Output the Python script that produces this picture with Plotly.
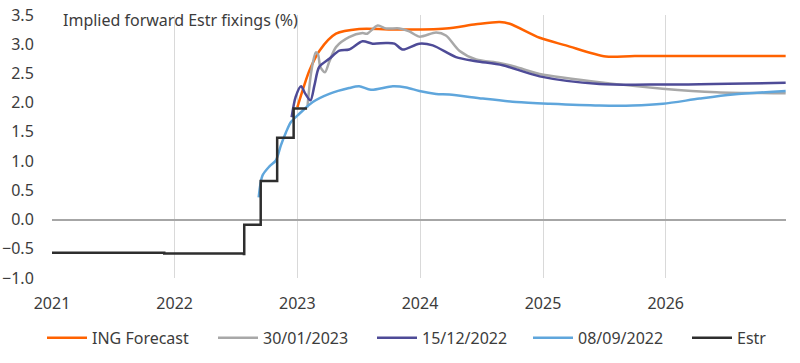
import plotly.graph_objects as go

# ---- data ----
estr_dates = ["2021-01-01", "2021-06-01", "2021-12-01", "2022-07-26", "2022-07-27", "2022-09-14",
              "2022-11-02", "2022-12-21", "2023-01-30"]
estr_vals = [-0.57, -0.57, -0.58, -0.59, -0.09, 0.66, 1.40, 1.90, 1.90]

ing_dates = ["2023-01-01", "2023-02-06", "2023-03-08", "2023-04-26", "2023-07-04", "2023-11-01",
             "2024-03-18", "2024-06-15", "2024-08-25", "2024-09-24", "2024-12-22", "2025-03-10",
             "2025-07-07", "2025-10-01", "2026-12-24"]
ing_vals = [1.92, 2.55, 2.89, 3.18, 3.26, 3.25, 3.27, 3.34, 3.38, 3.35, 3.11, 2.98,
            2.79, 2.80, 2.80]

d300123_dates = ["2023-01-31", "2023-02-12", "2023-02-25", "2023-03-04", "2023-03-10", "2023-03-24",
                 "2023-04-06", "2023-04-26", "2023-06-04", "2023-07-14", "2023-07-28", "2023-08-28",
                 "2023-09-22", "2023-11-01", "2023-11-30", "2023-12-30", "2024-02-18", "2024-03-18",
                 "2024-04-27", "2024-06-16", "2024-08-24", "2024-10-13", "2024-12-22", "2025-07-18",
                 "2025-12-23", "2026-06-01", "2026-12-24"]
d300123_vals = [1.92, 2.55, 2.86, 2.82, 2.62, 2.52, 2.70, 2.95, 3.12, 3.19, 3.18, 3.32,
                3.27, 3.27, 3.22, 3.13, 3.20, 3.15, 2.89, 2.74, 2.68, 2.61, 2.49, 2.33,
                2.24, 2.18, 2.16]

d151222_dates = ["2022-12-15", "2022-12-27", "2023-01-12", "2023-01-25", "2023-02-09", "2023-02-21",
                 "2023-03-07", "2023-04-06", "2023-05-06", "2023-06-04", "2023-07-14", "2023-08-13",
                 "2023-09-22", "2023-10-17", "2023-11-10", "2023-12-30", "2024-02-08", "2024-04-17",
                 "2024-06-16", "2024-09-03", "2024-12-22", "2025-06-18", "2025-12-23", "2026-12-24"]
d151222_vals = [1.75, 2.10, 2.28, 2.15, 2.04, 2.30, 2.61, 2.75, 2.89, 2.91, 3.05, 3.01,
                3.02, 3.01, 2.91, 3.01, 2.98, 2.78, 2.71, 2.64, 2.45, 2.32, 2.31, 2.34]

d080922_dates = ["2022-09-08", "2022-09-19", "2022-10-10", "2022-10-29", "2022-11-13", "2022-11-28",
                 "2022-12-13", "2023-01-07", "2023-02-16", "2023-04-06", "2023-06-04", "2023-07-04",
                 "2023-08-08", "2023-10-12", "2023-11-21", "2023-12-30", "2024-02-18", "2024-03-28",
                 "2024-07-06", "2024-10-13", "2025-01-21", "2025-06-18", "2025-09-25", "2025-12-24",
                 "2026-04-12", "2026-07-20", "2026-12-24"]
d080922_vals = [0.38, 0.75, 0.91, 1.01, 1.27, 1.49, 1.67, 1.81, 2.01, 2.15, 2.25, 2.28,
                2.22, 2.28, 2.26, 2.20, 2.15, 2.14, 2.07, 2.01, 1.98, 1.95, 1.95, 1.98,
                2.07, 2.14, 2.20]

y_ticks = [-1.0, -0.5, 0.0, 0.5, 1.0, 1.5, 2.0, 2.5, 3.0, 3.5]
x_ticks = ["2021-01-01", "2022-01-01", "2023-01-01", "2024-01-01", "2025-01-01", "2026-01-01"]
x_labels = ["2021", "2022", "2023", "2024", "2025", "2026"]

FONT = "Noto Sans"
TXT = "#3c3c3c"
W, H = 800, 363
ML, MR, MT, MB = 52, 14, 15, 85
PW = W - ML - MR

fig = go.Figure()
series = [
    ("ING Forecast", ing_dates, ing_vals, "#FF6200", "spline"),
    ("30/01/2023", d300123_dates, d300123_vals, "#A8A8A8", "spline"),
    ("15/12/2022", d151222_dates, d151222_vals, "#4E4B97", "spline"),
    ("08/09/2022", d080922_dates, d080922_vals, "#5FA6DC", "spline"),
    ("Estr", estr_dates, estr_vals, "#2E2E2E", "hv"),
]
legend_left = [42, 213, 372, 528, 687]  # screen x of legend line starts
legends = {}
for i, (name, xs, ys, col, shape) in enumerate(series):
    kw = dict(shape=shape, color=col, width=2.5)
    if shape == "spline":
        kw["smoothing"] = 0.8
    lname = "legend" if i == 0 else f"legend{i+1}"
    fig.add_trace(go.Scatter(x=xs, y=ys, name=name, mode="lines", line=kw, legend=lname))
    legends[lname] = dict(orientation="h", x=(legend_left[i] - ML) / PW, xanchor="left",
                          y=-0.228, yanchor="middle", font=dict(size=16, color=TXT),
                          itemwidth=40, bgcolor="rgba(0,0,0,0)")

fig.update_layout(
    width=W, height=H,
    margin=dict(l=ML, r=MR, t=MT, b=MB, autoexpand=False),
    plot_bgcolor="white", paper_bgcolor="white",
    font=dict(family=FONT, size=16, color=TXT),
    showlegend=True,
    xaxis=dict(type="date", range=["2021-01-01", "2026-12-25"],
               tickvals=x_ticks, ticktext=x_labels, automargin=False,
               showgrid=True, gridcolor="#D9D9D9", gridwidth=1,
               ticks="outside", ticklen=11, tickcolor="rgba(0,0,0,0)",
               showline=False, zeroline=False, tickfont=dict(size=16)),
    yaxis=dict(range=[-1.0, 3.5], tickvals=y_ticks, tickformat=".1f", automargin=False,
               showgrid=False, zeroline=True, zerolinecolor="#A6A6A6", zerolinewidth=1.5,
               showline=False, ticks="outside", ticklen=14, tickcolor="rgba(0,0,0,0)",
               tickfont=dict(size=16)),
    annotations=[dict(text="Implied forward Estr fixings (%)", xref="paper", yref="paper",
                      x=0.012, y=0.981, xanchor="left", yanchor="middle", showarrow=False,
                      font=dict(size=16, color=TXT))],
    **legends,
)
fig.write_html("out.html", config={"displayModeBar": False},
               post_script="document.body.style.margin='0';")
